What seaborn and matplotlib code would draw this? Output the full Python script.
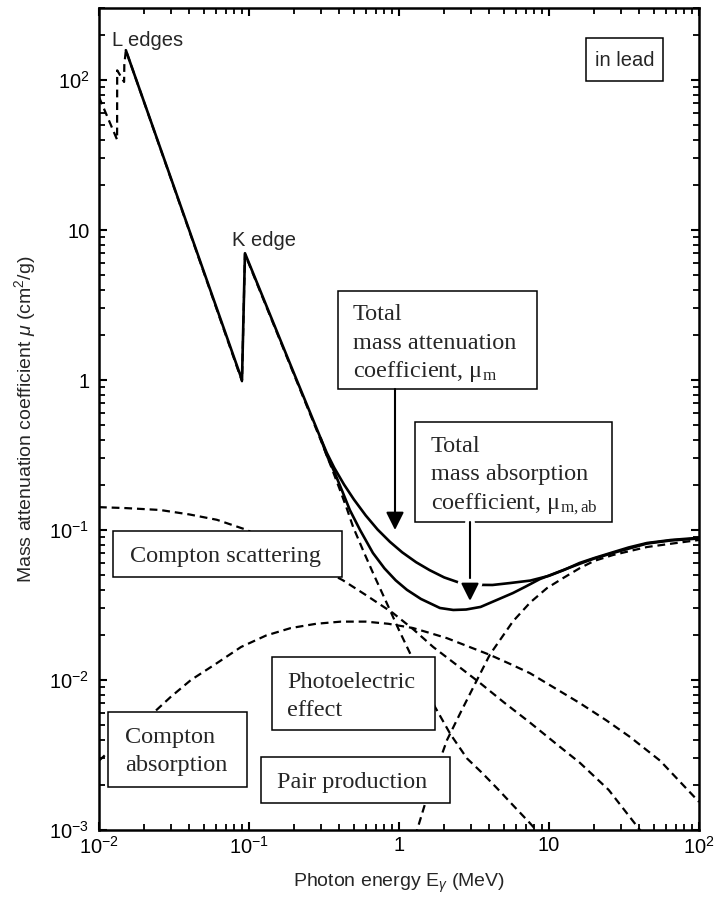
import numpy as np
import pandas as pd
import matplotlib
matplotlib.use("Agg")
import matplotlib.pyplot as plt
import matplotlib.patheffects as pe
from matplotlib.patches import Rectangle
import seaborn as sns

# Curves: photon energy (MeV) and mu (cm2/g)
tot_E = [0.0151, 0.0898, 0.094, 0.2, 0.3, 0.33, 0.37, 0.43, 0.5, 0.6, 0.72, 0.87, 1.05,
         1.3, 1.6, 2.0, 2.5, 3.2, 4.2, 5.5, 7.5, 10, 12.5, 16, 20, 27, 34, 45, 65, 100]
tot_mu = [158, 1.0, 7.0, 1.1, 0.41, 0.327, 0.26, 0.201, 0.16, 0.125, 0.1007, 0.0834,
          0.071, 0.061, 0.054, 0.0483, 0.0447, 0.0431, 0.043, 0.0443, 0.046, 0.0495,
          0.054, 0.0603, 0.065, 0.0713, 0.0765, 0.0819, 0.0858, 0.0887]

abs_E = [0.3, 0.33, 0.37, 0.42, 0.47, 0.55, 0.67, 0.8, 0.95, 1.13, 1.4, 1.875, 2.3, 2.8,
         3.5, 4.5, 5.75, 7.0, 8.7, 12.4, 16, 20, 27, 45, 65, 100]
abs_mu = [0.41, 0.315, 0.245, 0.18, 0.136, 0.1, 0.0703, 0.0555, 0.0462, 0.0399, 0.0347,
          0.0302, 0.0293, 0.0295, 0.0307, 0.0342, 0.038, 0.042, 0.0471, 0.054, 0.0595,
          0.0645, 0.0705, 0.0812, 0.0852, 0.0878]

photo_E = [0.01, 0.0132, 0.01322, 0.0147, 0.01475, 0.0151, 0.0898, 0.094, 0.2, 0.3,
           0.35, 0.4, 0.45, 0.494, 0.58, 0.671, 0.75, 0.871, 1.0, 1.18, 1.4, 1.74, 2.2,
           2.84, 3.6, 4.5, 5.8, 7.47, 9.0]
photo_mu = [77, 40, 116, 97, 126, 158, 0.98, 6.9, 1.08, 0.40, 0.27, 0.19, 0.138, 0.105,
            0.072, 0.0517, 0.0405, 0.0292, 0.0215, 0.0152, 0.0106, 6.6e-3, 4.36e-3,
            3.0e-3, 2.39e-3, 1.9e-3, 1.45e-3, 1.11e-3, 0.9e-3]

cscat_E = [0.01, 0.015, 0.0255, 0.04, 0.061, 0.097, 0.2, 0.42, 0.6, 0.91, 1.25, 1.69,
           2.5, 3.47, 5.0, 7.47, 11, 16.1, 25, 40.4, 50]
cscat_mu = [0.142, 0.14, 0.136, 0.127, 0.117, 0.1, 0.068, 0.0464, 0.0369, 0.028, 0.0217,
            0.0166, 0.0123, 9.55e-3, 7.1e-3, 5.2e-3, 3.8e-3, 2.8e-3, 1.85e-3, 1.0e-3,
            0.8e-3]

cabs_E = [0.01, 0.015, 0.0233, 0.03, 0.041, 0.06, 0.0885, 0.13, 0.19, 0.28, 0.41, 0.6,
          0.85, 1.24, 1.6, 2.09, 3.0, 4.04, 5.5, 7.47, 11, 16.1, 24, 34.7, 55, 100]
cabs_mu = [2.9e-3, 4.2e-3, 6.1e-3, 7.7e-3, 0.01, 0.0128, 0.0166, 0.0198, 0.0222, 0.0237,
           0.0245, 0.0245, 0.0237, 0.0222, 0.0206, 0.019, 0.0165, 0.0147, 0.0128, 0.0111,
           8.8e-3, 7.0e-3, 5.4e-3, 4.17e-3, 2.9e-3, 1.54e-3]

pair_E = [1.2, 1.32, 1.6, 2.09, 2.6, 3.31, 4.04, 5.75, 7.5, 9.7, 12.5, 16.1, 20, 26.7,
          35, 45, 65, 100]
pair_mu = [0.75e-3, 1.0e-3, 1.88e-3, 3.98e-3, 6.2e-3, 0.01, 0.0148, 0.0246, 0.0329,
           0.041, 0.048, 0.0558, 0.0622, 0.0681, 0.0726, 0.077, 0.081, 0.0858]

xticks = [1e-2, 1e-1, 1, 10, 1e2]
xticklabels = [r"10$^{\mathregular{-2}}$", r"10$^{\mathregular{-1}}$", "1", "10",
               r"10$^{\mathregular{2}}$"]
yticks = [1e-3, 1e-2, 1e-1, 1, 10, 1e2]
yticklabels = [r"10$^{\mathregular{-3}}$", r"10$^{\mathregular{-2}}$",
               r"10$^{\mathregular{-1}}$", "1", "10", r"10$^{\mathregular{2}}$"]

sns.set_style("ticks")
plt.rcParams["font.family"] = ["Liberation Sans", "DejaVu Sans"]
plt.rcParams["mathtext.fontset"] = "custom"
plt.rcParams["mathtext.rm"] = "Liberation Sans"
plt.rcParams["mathtext.it"] = "Liberation Sans:italic"

W, H = 714, 899
L, R, T, B = 99, 699, 8, 830

fig = plt.figure(figsize=(W / 100, H / 100), dpi=100)
ax = fig.add_axes([L / W, 1 - B / H, (R - L) / W, (B - T) / H])
ax.set_xscale("log")
ax.set_yscale("log")

solid = dict(color="black", lw=1.9, sort=False, estimator=None, zorder=2)
dash = dict(color="black", lw=1.6, sort=False, estimator=None, zorder=2,
            linestyle=(0, (3.5, 2.2)))

sns.lineplot(x=tot_E, y=tot_mu, ax=ax, **solid)
sns.lineplot(x=abs_E, y=abs_mu, ax=ax, **solid)
sns.lineplot(x=photo_E, y=photo_mu, ax=ax, **dash)
sns.lineplot(x=cscat_E, y=cscat_mu, ax=ax, **dash)
sns.lineplot(x=cabs_E, y=cabs_mu, ax=ax, **dash)
sns.lineplot(x=pair_E, y=pair_mu, ax=ax, **dash)

ax.set_xlim(1e-2, 1e2)
ax.set_ylim(1e-3, 10 ** 2.48)
ax.set_xticks(xticks)
ax.set_xticklabels(xticklabels)
ax.set_yticks(yticks)
ax.set_yticklabels(yticklabels)
ax.xaxis.set_minor_locator(matplotlib.ticker.LogLocator(base=10, subs=np.arange(2, 10)))
ax.yaxis.set_minor_locator(matplotlib.ticker.LogLocator(base=10, subs=np.arange(2, 10), numticks=20))
ax.xaxis.set_minor_formatter(matplotlib.ticker.NullFormatter())
ax.yaxis.set_minor_formatter(matplotlib.ticker.NullFormatter())
ax.tick_params(which="both", direction="in", top=True, right=True, colors="black",
               labelsize=14.5)
ax.tick_params(which="major", length=6, width=1.5)
ax.tick_params(which="minor", length=4.5, width=1.3)
ax.tick_params(axis="x", pad=4)
ax.tick_params(axis="y", pad=7)
for s in ax.spines.values():
    s.set_linewidth(1.8)
    s.set_color("black")

ax.set_xlabel(r"Photon energy E$_{\gamma}$ (MeV)", fontsize=14, labelpad=10)
ax.set_ylabel(r"Mass attenuation coefficient $\mu$ (cm$^{\mathregular{2}}$/g)",
              fontsize=14, labelpad=8)


def pos(x, y):
    return (x - L) / (R - L), (B - y) / (B - T)


def box(x0, y0, x1, y1):
    ax.add_patch(Rectangle(pos(x0, y1), (x1 - x0) / (R - L), (y1 - y0) / (B - T),
                           transform=ax.transAxes, facecolor="white",
                           edgecolor="black", lw=1.1, zorder=4))


serif = ["Liberation Serif", "DejaVu Serif"]


def label(x, y, s, **kw):
    ax.text(*pos(x, y), s, transform=ax.transAxes, va="baseline", zorder=5, **kw)


box(338, 291, 537, 389)
label(353, 320, "Total", family=serif, fontsize=17.5)
label(353, 349, "mass attenuation", family=serif, fontsize=17.5)
label(353, 377, r"coefficient, μ$_{\mathregular{m}}$", family=serif, fontsize=17.5)

box(415, 422, 612, 522)
label(431, 452, "Total", family=serif, fontsize=17.5)
label(431, 480, "mass absorption", family=serif, fontsize=17.5)
label(431, 509, r"coefficient, μ$_{\mathregular{m,ab}}$", family=serif, fontsize=17.5)

box(113, 531, 342, 577)
label(130, 562, "Compton scattering", family=serif, fontsize=17.5)

box(272, 657, 435, 730)
label(287, 688, "Photoelectric", family=serif, fontsize=17.5)
label(287, 716, "effect", family=serif, fontsize=17.5)

box(108, 712, 247, 787)
label(125, 743, "Compton", family=serif, fontsize=17.5)
label(125, 771, "absorption", family=serif, fontsize=17.5)

box(261, 757, 450, 803)
label(277, 788, "Pair production", family=serif, fontsize=17.5)

box(586, 38, 663, 81)
label(624.5, 66, "in lead", fontsize=14.5, ha="center")
label(112, 46, "L edges", fontsize=14.5)
label(232, 246, "K edge", fontsize=14.5)

arrow = dict(arrowstyle="-|>,head_length=0.4,head_width=0.2", mutation_scale=27,
             color="black", lw=1.5, shrinkA=0, shrinkB=0)
ax.annotate("", xy=pos(395, 530), xytext=pos(395, 389), xycoords="axes fraction",
            textcoords="axes fraction", arrowprops=arrow, zorder=5)
ax.annotate("", xy=pos(470, 601), xytext=pos(470, 522), xycoords="axes fraction",
            textcoords="axes fraction", zorder=5,
            arrowprops=dict(arrow, path_effects=[pe.withStroke(linewidth=7, foreground="white")]))

fig.savefig("out.png", dpi=100)
